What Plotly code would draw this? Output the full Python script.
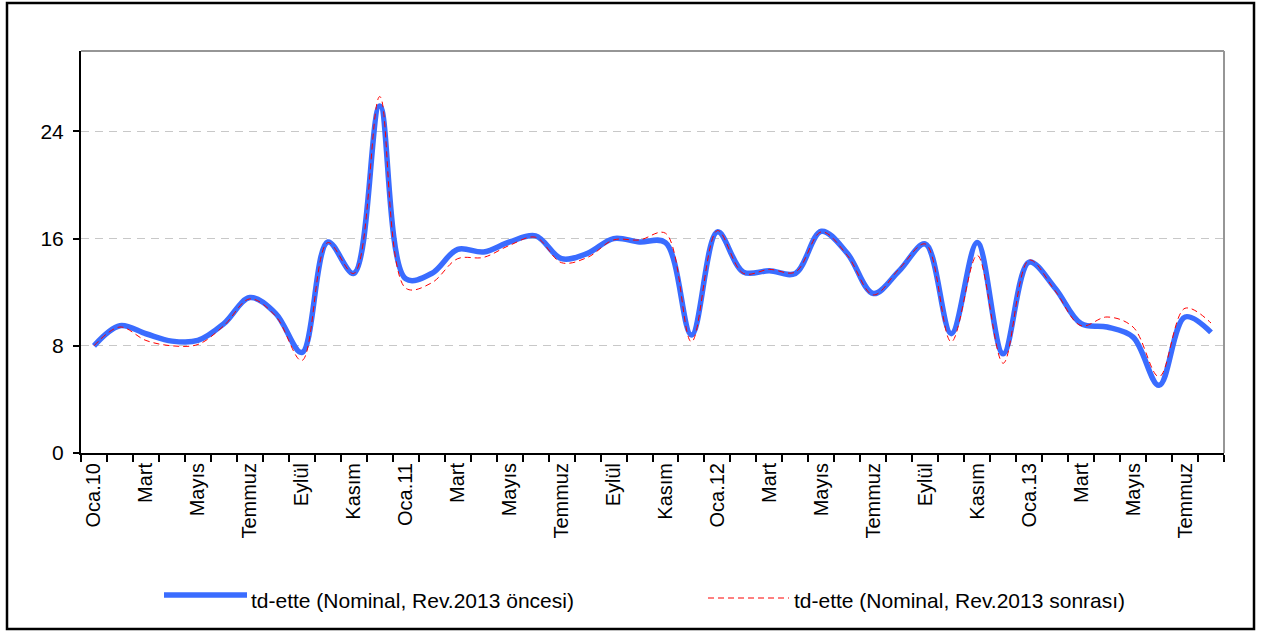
import plotly.graph_objects as go

# ---- data ----
month_labels = [
    "Oca.10", "Şubat", "Mart", "Nisan", "Mayıs", "Haziran", "Temmuz", "Ağustos", "Eylül", "Ekim", "Kasım", "Aralık",
    "Oca.11", "Şubat", "Mart", "Nisan", "Mayıs", "Haziran", "Temmuz", "Ağustos", "Eylül", "Ekim", "Kasım", "Aralık",
    "Oca.12", "Şubat", "Mart", "Nisan", "Mayıs", "Haziran", "Temmuz", "Ağustos", "Eylül", "Ekim", "Kasım", "Aralık",
    "Oca.13", "Şubat", "Mart", "Nisan", "Mayıs", "Haziran", "Temmuz", "Ağustos",
]
oncesi = [8.0, 9.5, 8.9, 8.35, 8.4, 9.65, 11.6, 10.4, 7.5, 15.75, 13.4, 25.9,
          13.0, 13.4, 15.2, 15.0, 15.75, 16.2, 14.5, 14.9, 16.0, 15.75, 15.7, 8.8,
          16.5, 13.5, 13.6, 13.4, 16.55, 14.9, 11.9, 13.6, 15.6, 8.9, 15.7, 7.4,
          14.25, 12.3, 9.65, 9.4, 8.65, 5.05, 10.15, 9.0]
sonrasi = [8.0, 9.4, 8.4, 8.0, 8.1, 9.5, 11.5, 10.2, 6.9, 15.7, 13.4, 26.6,
           12.3, 12.7, 14.5, 14.6, 15.5, 16.1, 14.2, 14.6, 15.9, 15.9, 16.4, 8.3,
           16.6, 13.4, 13.7, 13.5, 16.5, 14.75, 11.8, 13.75, 15.6, 8.3, 14.75, 6.7,
           14.4, 12.1, 9.5, 10.15, 9.4, 5.7, 10.8, 9.7]
series_names = ["td-ette (Nominal, Rev.2013 öncesi)", "td-ette (Nominal, Rev.2013 sonrası)"]
y_ticks = [0, 8, 16, 24]

# ---- layout geometry ----
W, H = 1262, 631
L, R, T, B = 81, 38, 51, 178
PW, PH = W - L - R, H - T - B

def px(x):
    return (x - L) / PW

def py(y):
    return (H - B - y) / PH

FONT = "Liberation Sans, Arial, sans-serif"
BLUE = "rgb(58,108,255)"
RED = "rgb(255,0,0)"

idx = list(range(len(month_labels)))

fig = go.Figure()
fig.add_trace(go.Scatter(x=idx, y=oncesi, mode="lines", name=series_names[0],
                         line=dict(color=BLUE, width=5.5, shape="spline", smoothing=1.0),
                         showlegend=False))
fig.add_trace(go.Scatter(x=idx, y=sonrasi, mode="lines", name=series_names[1],
                         line=dict(color=RED, width=1, dash="6px,4px", shape="spline", smoothing=1.0),
                         showlegend=False))

shapes = [
    # outer chart border
    dict(type="rect", xref="paper", yref="paper", x0=px(7), x1=px(1254), y0=py(629), y1=py(3),
         line=dict(color="black", width=2.5), fillcolor="rgba(0,0,0,0)", layer="below"),
    # plot area border top/right (gray)
    dict(type="line", xref="paper", yref="paper", x0=0, x1=1, y0=1, y1=1,
         line=dict(color="rgb(150,150,150)", width=2)),
    dict(type="line", xref="paper", yref="paper", x0=1, x1=1, y0=0, y1=1,
         line=dict(color="rgb(150,150,150)", width=2)),
    # legend samples
    dict(type="line", xref="paper", yref="paper", x0=px(164), x1=px(247), y0=py(595), y1=py(595),
         line=dict(color=BLUE, width=5.5)),
    dict(type="line", xref="paper", yref="paper", x0=px(708), x1=px(789), y0=py(598), y1=py(598),
         line=dict(color=RED, width=1, dash="6px,4px")),
]

annotations = [
    dict(xref="paper", yref="paper", x=px(249), y=py(600), xanchor="left", yanchor="middle",
         text=series_names[0], showarrow=False, font=dict(family=FONT, size=21, color="black")),
    dict(xref="paper", yref="paper", x=px(792), y=py(600), xanchor="left", yanchor="middle",
         text=series_names[1], showarrow=False, font=dict(family=FONT, size=21, color="black")),
]

fig.update_layout(
    width=W, height=H,
    margin=dict(l=L, r=R, t=T, b=B),
    paper_bgcolor="white", plot_bgcolor="white",
    font=dict(family=FONT, size=20, color="black"),
    shapes=shapes, annotations=annotations,
    xaxis=dict(
        range=[-0.5, len(month_labels) - 0.5],
        tickmode="array",
        tickvals=idx[::2],
        ticktext=month_labels[::2],
        tickangle=-90,
        ticks="", ticklen=0,
        showgrid=False, zeroline=False,
        showline=True, linecolor="black", linewidth=2,
        tickfont=dict(family=FONT, size=20, color="black"),
        minor=dict(ticks="outside", tick0=-0.5, dtick=1, ticklen=7, tickwidth=2, tickcolor="black", showgrid=False),
    ),
    yaxis=dict(
        range=[0, 30],
        tickmode="array",
        tickvals=y_ticks,
        ticks="outside", ticklen=6, tickwidth=2, tickcolor="black",
        ticklabelstandoff=5,
        showgrid=True, gridcolor="rgb(200,200,200)", gridwidth=1, griddash="8px,6px",
        zeroline=False,
        showline=True, linecolor="black", linewidth=2,
        tickfont=dict(family=FONT, size=21, color="black"),
    ),
)

fig.write_html("out.html", config={"displayModeBar": False},
               post_script="document.body.style.margin='0';document.body.style.overflow='hidden';")
